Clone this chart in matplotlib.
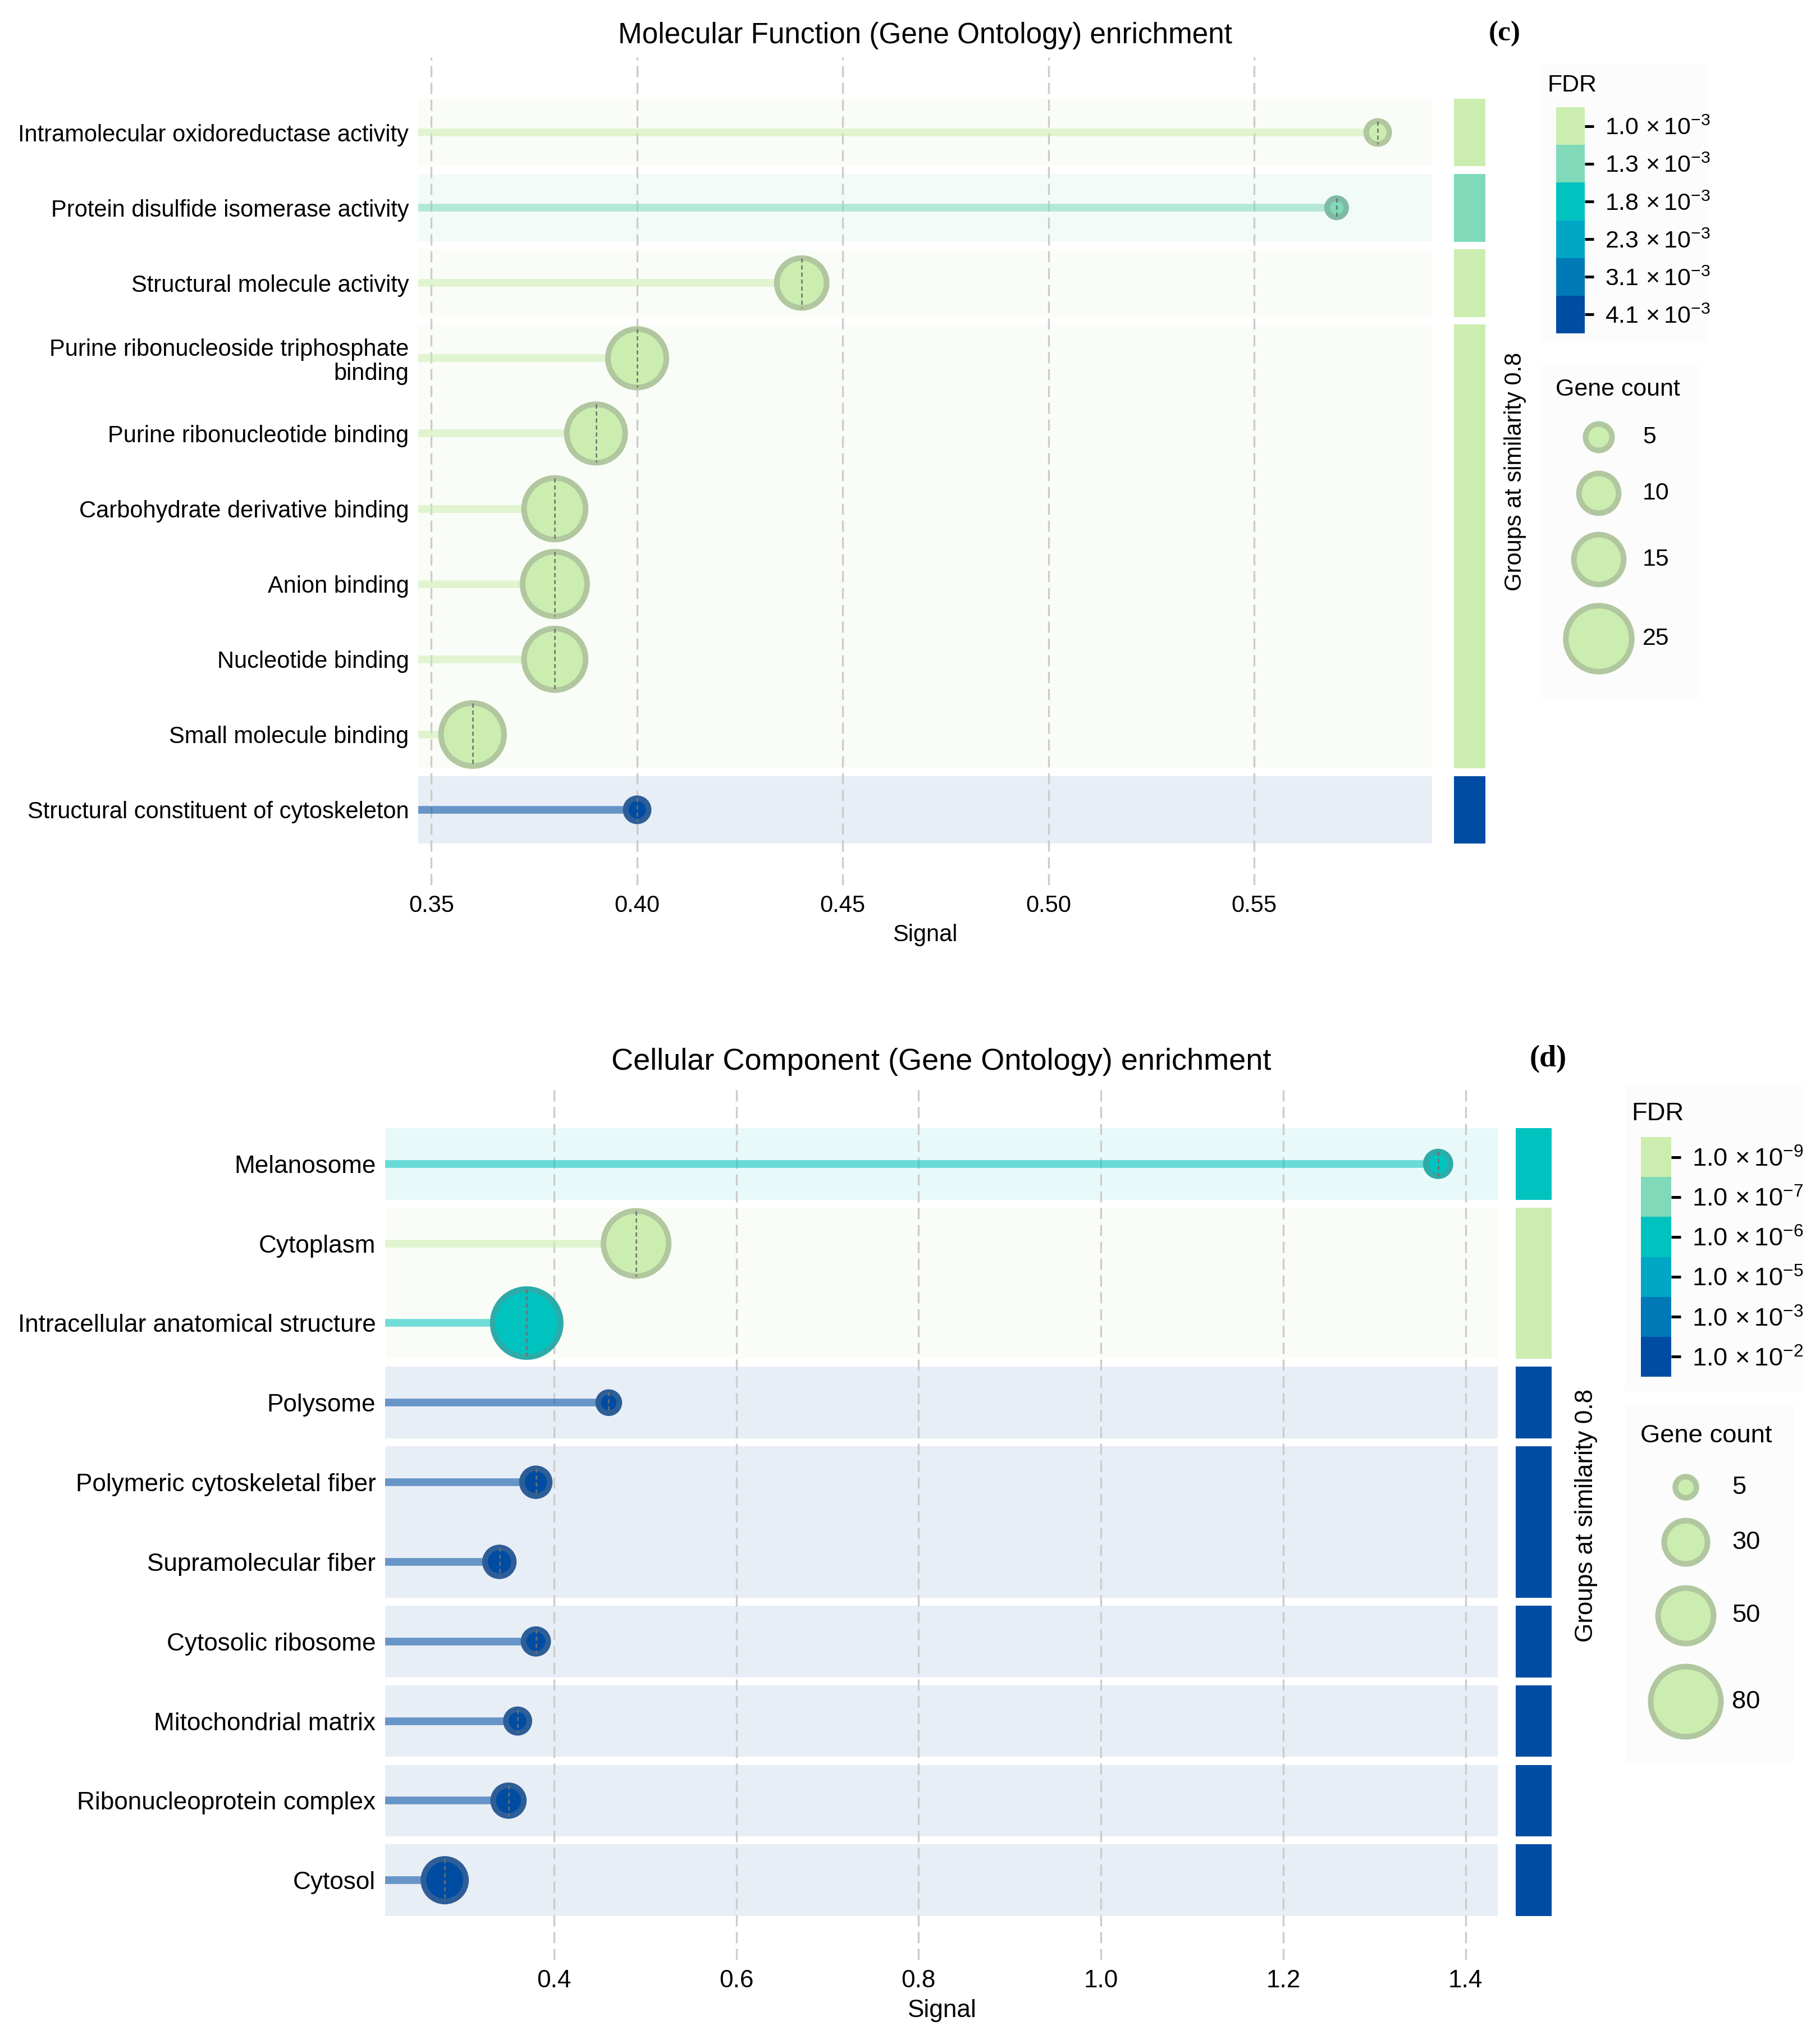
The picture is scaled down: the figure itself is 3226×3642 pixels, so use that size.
import numpy as np
import matplotlib
matplotlib.use("Agg")
import matplotlib.pyplot as plt
from matplotlib.colors import ListedColormap, BoundaryNorm, to_rgb
from matplotlib.cm import ScalarMappable
from matplotlib.patches import Rectangle
from matplotlib.ticker import MultipleLocator, FormatStrFormatter, NullLocator

plt.rcParams['font.family'] = ['Liberation Sans', 'DejaVu Sans']
plt.rcParams['mathtext.fontset'] = 'custom'
plt.rcParams['mathtext.rm'] = 'Liberation Sans'
plt.rcParams['mathtext.it'] = 'Liberation Sans:italic'
plt.rcParams['mathtext.bf'] = 'Liberation Sans:bold'

W, H, DPI = 3226, 3642, 300
EDGE_PX = 10

# FDR colour bins, most significant (lightest) first
fdr_colors = ['#ccedb0', '#80dab9', '#00c3c0', '#00a6c6', '#0079b7', '#004ca3']

# --- (c) Molecular Function ---
mf_terms = ['Intramolecular oxidoreductase activity',
            'Protein disulfide isomerase activity',
            'Structural molecule activity',
            'Purine ribonucleoside triphosphate\nbinding',
            'Purine ribonucleotide binding',
            'Carbohydrate derivative binding',
            'Anion binding',
            'Nucleotide binding',
            'Small molecule binding',
            'Structural constituent of cytoskeleton']
mf_signal = [0.58, 0.57, 0.44, 0.40, 0.39, 0.38, 0.38, 0.38, 0.36, 0.40]
mf_genes = [4, 3, 15, 20, 20, 22, 24, 22, 23, 4]
mf_fdr_bin = [0, 1, 0, 0, 0, 0, 0, 0, 0, 5]
mf_group = [0, 1, 2, 3, 3, 3, 3, 3, 3, 4]
mf_fdr_mant = ['1.0', '1.3', '1.8', '2.3', '3.1', '4.1']
mf_fdr_exp = [-3, -3, -3, -3, -3, -3]
mf_legend_genes = [5, 10, 15, 25]

# --- (d) Cellular Component ---
cc_terms = ['Melanosome', 'Cytoplasm', 'Intracellular anatomical structure',
            'Polysome', 'Polymeric cytoskeletal fiber', 'Supramolecular fiber',
            'Cytosolic ribosome', 'Mitochondrial matrix',
            'Ribonucleoprotein complex', 'Cytosol']
cc_signal = [1.37, 0.49, 0.37, 0.46, 0.38, 0.34, 0.38, 0.36, 0.35, 0.28]
cc_genes = [8, 69, 75, 5, 11, 12, 8, 7, 14, 29]
cc_fdr_bin = [2, 0, 2, 5, 5, 5, 5, 5, 5, 5]
cc_group = [0, 1, 1, 2, 3, 3, 4, 5, 6, 7]
cc_fdr_mant = ['1.0', '1.0', '1.0', '1.0', '1.0', '1.0']
cc_fdr_exp = [-9, -7, -6, -5, -3, -2]
cc_legend_genes = [5, 30, 50, 80]


def px_rect(x0, y0, x1, y1):
    return [x0 / W, 1 - y1 / H, (x1 - x0) / W, (y1 - y0) / H]


def edge_of(c):
    r = np.array(to_rgb(c))
    return tuple(r * 0.65 + 0.5 * 0.35)


def outer_px(genes, size):
    a, b = size
    return np.sqrt(a + b * np.asarray(genes, dtype=float))


def marker_s(op):
    d = (op - EDGE_PX) * 72 / DPI
    return d ** 2


def draw_panel(fig, over, lay, terms, signal, genes, fdr_bin, group,
               mant, expo, legend_genes, title, xstep, xfmt):
    k = lay['k']
    ax = fig.add_axes(px_rect(*lay['main']))
    gax = fig.add_axes(px_rect(*lay['groups']))
    ax.set_facecolor('none')
    n = len(terms)
    y = np.arange(n)
    sig = np.asarray(signal)
    bins = np.asarray(fdr_bin)
    grp = np.asarray(group)
    span = sig.max() - sig.min()
    x0, x1 = sig.min() - 0.06 * span, sig.max() + 0.06 * span
    ax.set_xlim(x0, x1)
    ax.set_ylim(n, -1)
    gax.set_xlim(0, 1)
    gax.set_ylim(n, -1)
    gax.axis('off')

    for g in np.unique(grp):
        rows = y[grp == g]
        col = fdr_colors[bins[grp == g].min()]
        ax.axhspan(rows.min() - 0.45, rows.max() + 0.45, color=col,
                   alpha=0.09, lw=0, zorder=0)
        gax.barh((rows.min() + rows.max()) / 2, 1,
                 height=rows.max() - rows.min() + 0.9, left=0, color=col, lw=0)

    ax.xaxis.set_major_locator(MultipleLocator(xstep))
    ax.xaxis.set_major_formatter(FormatStrFormatter(xfmt))
    for t in ax.get_xticks():
        if x0 <= t <= x1:
            ax.axvline(t, color='#cccccc', lw=0.8, dashes=(6, 3), zorder=1)

    cols = [fdr_colors[b] for b in bins]
    ax.hlines(y, x0, sig, colors=cols, alpha=0.55, lw=3.3,
              capstyle='butt', zorder=2)
    op = outer_px(genes, lay['size'])
    ax.scatter(sig, y, s=marker_s(op), c=cols,
               edgecolors=[edge_of(c) for c in cols],
               linewidths=EDGE_PX * 72 / DPI, zorder=3)
    ppu = (lay['main'][3] - lay['main'][1]) / (n + 1)
    half = (op / 2 - EDGE_PX / 2) / ppu
    ax.vlines(sig, y - half, y + half, colors='#6f6f6f', lw=0.6,
              linestyles=(0, (3, 2)), zorder=4)

    ax.set_yticks(y, terms)
    for lbl in ax.get_yticklabels():
        lbl.set_linespacing(1.1)
    ax.tick_params(length=0, pad=4, labelsize=10 * k)
    for s in ax.spines.values():
        s.set_visible(False)
    ax.set_xlabel('Signal', fontsize=10 * k, labelpad=3)
    ax.set_title(title, fontsize=12.3 * k, pad=6 * k)

    # annotations on the overlay
    over.text(*lay['tag'][:2], lay['tag'][2], ha='center', va='center',
              fontsize=12.3 * k, fontweight='bold',
              family=['Liberation Serif', 'DejaVu Serif'])
    over.text(*lay['grp_text'], 'Groups at similarity 0.8', rotation=90,
              ha='center', va='center', fontsize=10 * k)
    for bx in lay['boxes']:
        over.add_patch(Rectangle((bx[0], bx[1]), bx[2] - bx[0], bx[3] - bx[1],
                                 fc='#fcfcfc', ec='none', zorder=0))
    over.text(*lay['fdr_title'], 'FDR', ha='left', va='baseline',
              fontsize=10.3 * k)

    cax = fig.add_axes(px_rect(*lay['cbar']))
    sm = ScalarMappable(norm=BoundaryNorm(np.arange(7), 6),
                        cmap=ListedColormap(fdr_colors[::-1]))
    cb = fig.colorbar(sm, cax=cax, ticks=np.arange(6) + 0.5)
    labels = [r'$%s\,\times10^{%d}$' % (m, e) for m, e in zip(mant, expo)]
    cb.set_ticklabels(labels[::-1])
    cb.outline.set_visible(False)
    cax.yaxis.set_minor_locator(NullLocator())
    cax.tick_params(which='major', length=3.9 * k, width=1.2, pad=4.8,
                    labelsize=10.3 * k)

    over.text(*lay['cnt_title'], 'Gene count', ha='left', va='baseline',
              fontsize=10.3 * k)
    lop = outer_px(legend_genes, lay['size'])
    over.scatter([lay['cnt_x']] * len(legend_genes), lay['cnt_y'],
                 s=marker_s(lop), c=fdr_colors[0],
                 edgecolors=[edge_of(fdr_colors[0])],
                 linewidths=EDGE_PX * 72 / DPI, zorder=3)
    for gcount, ly in zip(legend_genes, lay['cnt_y']):
        over.text(lay['cnt_lx'], ly, str(gcount), ha='left', va='center',
                  fontsize=10.3 * k)


top_lay = dict(k=1.0, main=(745, 102, 2551, 1577), groups=(2590, 102, 2646, 1577),
               tag=(2680, 60, '(c)'), grp_text=(2699, 840),
               fdr_title=(2756, 163), cbar=(2772, 191, 2823, 594),
               cnt_title=(2771, 705), cnt_x=2848, cnt_y=[779, 879, 997, 1138],
               cnt_lx=2926, boxes=[(2744, 116, 3044, 609), (2744, 651, 3027, 1244)],
               size=(0, 650))
bot_lay = dict(k=1.058, main=(686, 1932, 2668, 3492), groups=(2700, 1932, 2764, 3492),
               tag=(2758, 1887, '(d)'), grp_text=(2825, 2700),
               fdr_title=(2906, 1996), cbar=(2923, 2026, 2977, 2453),
               cnt_title=(2922, 2570), cnt_x=3003, cnt_y=[2650, 2748, 2879, 3032],
               cnt_lx=3085, boxes=[(2895, 1935, 3215, 2478), (2895, 2500, 3195, 3140)],
               size=(1200, 213))

fig = plt.figure(figsize=(W / DPI, H / DPI), dpi=DPI)
over = fig.add_axes([0, 0, 1, 1])
over.set_xlim(0, W)
over.set_ylim(H, 0)
over.axis('off')

draw_panel(fig, over, top_lay, mf_terms, mf_signal, mf_genes, mf_fdr_bin,
           mf_group, mf_fdr_mant, mf_fdr_exp, mf_legend_genes,
           'Molecular Function (Gene Ontology) enrichment', 0.05, '%.2f')
draw_panel(fig, over, bot_lay, cc_terms, cc_signal, cc_genes, cc_fdr_bin,
           cc_group, cc_fdr_mant, cc_fdr_exp, cc_legend_genes,
           'Cellular Component (Gene Ontology) enrichment', 0.2, '%.1f')

fig.savefig('out.png', dpi=DPI)
